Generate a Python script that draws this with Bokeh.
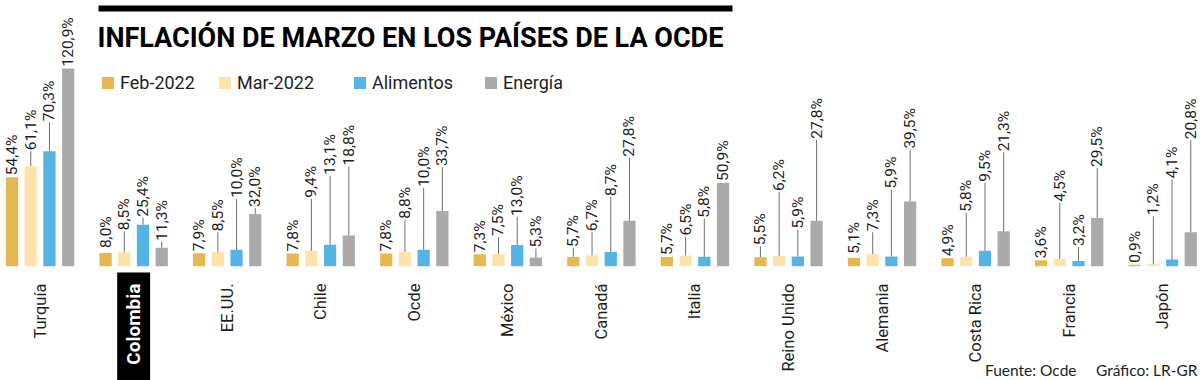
import math
import numpy as np
from bokeh.plotting import figure
from bokeh.models import (Range1d, Label, Legend, LegendItem, ColumnDataSource,
                          BoxAnnotation)
from bokeh.core.properties import value
from bokeh.embed import file_html
from bokeh.resources import INLINE

# ---------------- data ----------------
countries = ["Turquía", "Colombia", "EE.UU.", "Chile", "Ocde", "México", "Canadá",
             "Italia", "Reino Unido", "Alemania", "Costa Rica", "Francia", "Japón"]
series_names = ["Feb-2022", "Mar-2022", "Alimentos", "Energía"]
feb_2022 = [54.4, 8.0, 7.9, 7.8, 7.8, 7.3, 5.7, 5.7, 5.5, 5.1, 4.9, 3.6, 0.9]
mar_2022 = [61.1, 8.5, 8.5, 9.4, 8.8, 7.5, 6.7, 6.5, 6.2, 7.3, 5.8, 4.5, 1.2]
alimentos = [70.3, 25.4, 10.0, 13.1, 10.0, 13.0, 8.7, 5.8, 5.9, 5.9, 9.5, 3.2, 4.1]
energia = [120.9, 11.3, 32.0, 18.8, 33.7, 5.3, 27.8, 50.9, 27.8, 39.5, 21.3, 29.5, 20.8]
highlight = "Colombia"
title_text = "INFLACIÓN DE MARZO EN LOS PAÍSES DE LA OCDE"
source_text = "Fuente: Ocde"
credit_text = "Gráfico: LR-GR"

# ---------------- layout / style ----------------
# extra lift (in px) of each value label above its bar, per country and series
label_lift_px = [
    [0, 14, 28, 0],
    [3, 20, 6, 5],
    [0, 19, 50, 5],
    [0, 51, 68, 68],
    [0, 31, 61, 43],
    [0, 16, 27, 8],
    [8, 22, 54, 62],
    [0, 18, 37, 0],
    [10, 63, 26, 80],
    [2, 21, 66, 51],
    [0, 43, 67, 78],
    [0, 55, 13, 49],
    [0, 47, 79, 91],
]
colors = ["#E6B850", "#FCE3AA", "#56B3E6", "#AAAAAA"]
offsets = [-0.3, -0.1, 0.1, 0.3]
bar_width = 0.131
FONT = "Roboto"
W, H = 1200, 380

# pixel geometry helpers (page pixel -> data)
G0, PITCH = 39.6, 93.55          # x of first group centre, group pitch (px)
BASE = 265.7                     # y of bar baseline (px from top)
PX_PER_UNIT = 1.635              # px per percentage point


def dx(px):
    return (px - G0) / PITCH


def dy(py):
    return (BASE - py) / PX_PER_UNIT


p = figure(width=W, height=H, output_backend="svg", toolbar_location=None,
           x_range=Range1d(dx(0), dx(W)), y_range=Range1d(dy(H), dy(0)),
           min_border=0, outline_line_color=None, background_fill_color="white",
           border_fill_color="white")
p.axis.visible = False
p.grid.visible = False

# highlight box behind "Colombia"
hi = countries.index(highlight)
p.add_layout(BoxAnnotation(left=hi - 0.176, right=hi + 0.176, top=dy(272), bottom=dy(400),
                           fill_color="black", fill_alpha=1, line_color=None,
                           level="underlay"))

# bars
all_series = [feb_2022, mar_2022, alimentos, energia]
gx = np.arange(len(countries))
renderers = []
lx, ly0, ly1, tx, ty, tt = [], [], [], [], [], []
for j, vals in enumerate(all_series):
    src = ColumnDataSource(dict(x=gx + offsets[j], top=vals))
    r = p.vbar(x="x", top="top", bottom=0, width=bar_width, source=src,
               fill_color=colors[j], line_color=None)
    renderers.append(r)
    for i, v in enumerate(vals):
        lift = label_lift_px[i][j]
        x = i + offsets[j]
        if lift >= 4:
            lx.append(x); ly0.append(v); ly1.append(v + (lift + 1) / PX_PER_UNIT)
        tx.append(x); ty.append(v + (lift + 2) / PX_PER_UNIT)
        tt.append(f"{v:.1f}".replace(".", ",") + "%")

p.segment(x0=lx, y0=ly0, x1=lx, y1=ly1, line_color="#707070", line_width=1)
p.text(x=tx, y=ty, text=tt, angle=math.pi / 2, text_align="left",
       text_baseline="middle", text_font=value(FONT), text_font_size="15.5px",
       text_color="#1e1e1e")

# category labels
cat_src = ColumnDataSource(dict(
    x=gx, y=[dy(283)] * len(countries), text=countries,
    color=["white" if c == highlight else "#1e1e1e" for c in countries],
    style=["bold" if c == highlight else "normal" for c in countries],
    size=["19px" if c == highlight else "16.5px" for c in countries]))
p.text(x="x", y="y", text="text", source=cat_src, angle=math.pi / 2,
       text_align="right", text_baseline="middle", text_font=value(FONT),
       text_font_size="size", text_font_style="style", text_color="color")

# title rule and title
p.add_layout(BoxAnnotation(left=dx(98), right=dx(732), top=dy(5), bottom=dy(11),
                           fill_color="black", fill_alpha=1, line_color=None))
p.add_layout(Label(x=dx(97), y=dy(37.5), text=title_text, text_font=FONT,
                   text_font_style="bold", text_font_size="27px", text_color="black",
                   text_baseline="alphabetic"))

# legend: one single-item legend per series, placed at its own position
legend_x = [100, 217, 352, 483]
for n, r, lxp in zip(series_names, renderers, legend_x):
    lg = Legend(items=[LegendItem(label=n, renderers=[r])],
                orientation="horizontal", location=(lxp, H - 82 - 12),
                glyph_width=15, glyph_height=15, label_standoff=5, spacing=0,
                padding=0, margin=0, border_line_alpha=0, background_fill_alpha=0,
                label_text_font=FONT, label_text_font_size="18px",
                label_text_color="#1e1e1e", label_height=24)
    p.add_layout(lg)

# footer
for txt, rx in [(source_text, 1076), (credit_text, 1197)]:
    p.add_layout(Label(x=dx(rx), y=dy(369), text=txt, text_font="Lato",
                       text_font_size="15.5px", text_color="#1e1e1e",
                       text_align="right", text_baseline="alphabetic"))

open("out.html", "w").write(file_html(p, INLINE))
